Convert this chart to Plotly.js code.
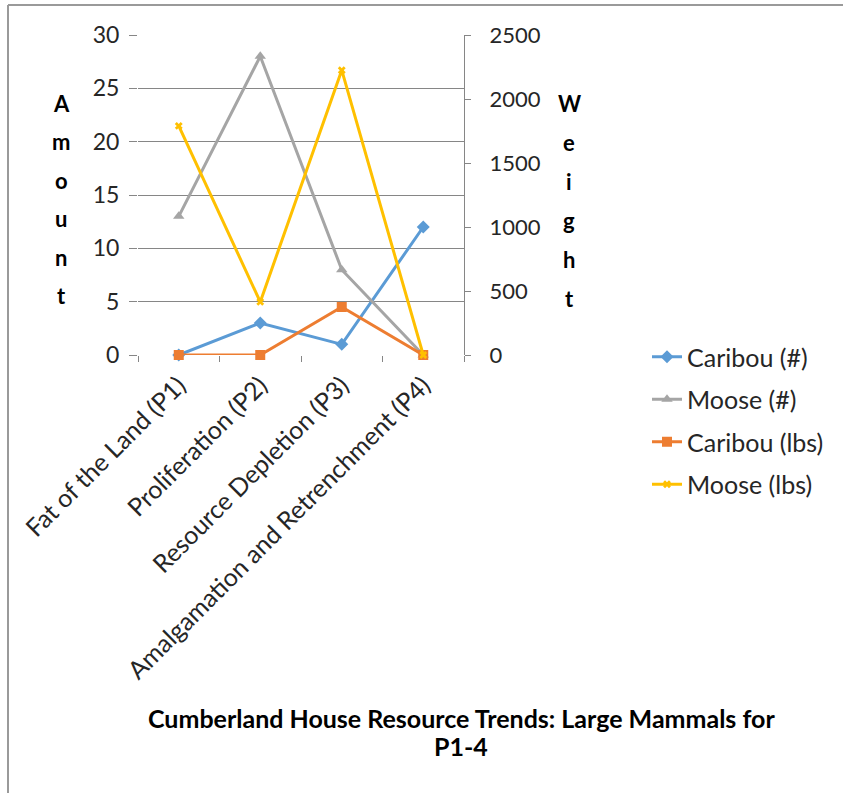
<!DOCTYPE html>
<html>
<head>
<meta charset="utf-8">
<script src="https://cdn.plot.ly/plotly-3.0.1.min.js"></script>
<style>html,body{margin:0;padding:0;background:#fff;}#chart{width:843px;height:793px;}</style>
</head>
<body>
<div id="chart"></div>
<script>
const categories = ["Fat of the Land (P1)", "Proliferation (P2)", "Resource Depletion (P3)", "Amalgamation and Retrenchment (P4)"];
const caribouCount = [0, 3, 1, 12];
const mooseCount = [13, 28, 8, 0];
const caribouLbs = [0, 0, 375, 0];
const mooseLbs = [1790, 415, 2225, 0];
const seriesNames = ["Caribou (#)", "Moose (#)", "Caribou (lbs)", "Moose (lbs)"];
const leftTitle = "Amount";
const rightTitle = "Weight";
const titleLines = ["Cumberland House Resource Trends: Large Mammals for", "P1-4"];

const W = 843, H = 793;
const M = {l: 138, r: W - 464, t: 35, b: H - 355};
const pw = W - M.l - M.r, ph = H - M.t - M.b;
const px = x => (x - M.l) / pw;
const py = y => (H - M.b - y) / ph;

const FONT = "Lato, 'Open Sans', sans-serif";
const colors = ["#5B9BD5", "#A5A5A5", "#ED7D31", "#FFC000"];

function tr(y, i, axis, symbol, size) {
  return {
    x: categories, y: y, name: seriesNames[i], type: "scatter", mode: "lines+markers",
    yaxis: axis, legendgroup: "g" + i,
    line: {color: colors[i], width: 3},
    marker: {color: colors[i], symbol: symbol, size: size, line: {width: 0}},
    cliponaxis: false
  };
}
const data = [
  tr(caribouCount, 0, "y", "diamond", 10),
  tr(mooseCount, 1, "y", "triangle-up", 10),
  tr(caribouLbs, 2, "y2", "square", 10),
  tr(mooseLbs, 3, "y2", "x", 7)
];

const annotations = [];
leftTitle.split("").forEach((ch, k) => {
  annotations.push({text: ch, xref: "paper", yref: "paper", x: px(61), y: py(103 + k * 38.5),
    showarrow: false, xanchor: "center", yanchor: "middle", font: {family: FONT, size: 22, color: "#000", weight: "bold"}});
});
rightTitle.split("").forEach((ch, k) => {
  annotations.push({text: ch, xref: "paper", yref: "paper", x: px(569), y: py(104 + k * 38.8),
    showarrow: false, xanchor: "center", yanchor: "middle", font: {family: FONT, size: 22, color: "#000", weight: "bold"}});
});
titleLines.forEach((t, k) => {
  annotations.push({text: t, xref: "paper", yref: "paper", x: px(461), y: py(718 + k * 28),
    showarrow: false, xanchor: "center", yanchor: "middle",
    font: {family: FONT, size: 25, color: "#000", weight: "bold"}});
});

const layout = {
  width: W, height: H, margin: M,
  paper_bgcolor: "#fff", plot_bgcolor: "#fff",
  showlegend: true,
  legend: {x: px(647), y: py(334), xanchor: "left", yanchor: "top", traceorder: "grouped", tracegroupgap: 7,
    font: {family: FONT, size: 25, color: "#262626"}, bgcolor: "rgba(0,0,0,0)"},
  xaxis: {type: "category", range: [-0.5, 3.5], tickson: "boundaries", ticks: "outside", ticklen: 6,
    tickcolor: "#868686", showline: false, showgrid: false, zeroline: false, tickangle: -45,
    ticklabelstandoff: 10,
    tickfont: {family: FONT, size: 25, color: "#262626"}, fixedrange: true},
  yaxis: {range: [0, 30], dtick: 5, showgrid: true, gridcolor: "#868686", gridwidth: 1, zeroline: false,
    showline: false, ticks: "outside", ticklen: 8, tickcolor: "#868686", ticklabelstandoff: 5,
    tickfont: {family: FONT, size: 23, color: "#262626"}},
  yaxis2: {range: [0, 2500], dtick: 500, overlaying: "y", side: "right", showgrid: false, zeroline: false,
    showline: true, linecolor: "#868686", linewidth: 1, ticks: "outside", ticklen: 6, tickcolor: "#868686",
    ticklabelstandoff: 14, tickfont: {family: FONT, size: 22, color: "#262626"}},
  annotations: annotations,
  shapes: [
    {type: "line", xref: "paper", yref: "paper", x0: px(8), x1: px(W), y0: py(5), y1: py(5), line: {color: "#9a9a9a", width: 2}},
    {type: "line", xref: "paper", yref: "paper", x0: px(8), x1: px(8), y0: py(5), y1: py(H), line: {color: "#9a9a9a", width: 2}}
  ]
};
Plotly.newPlot("chart", data, layout, {displayModeBar: false, staticPlot: true});
</script>
</body>
</html>
